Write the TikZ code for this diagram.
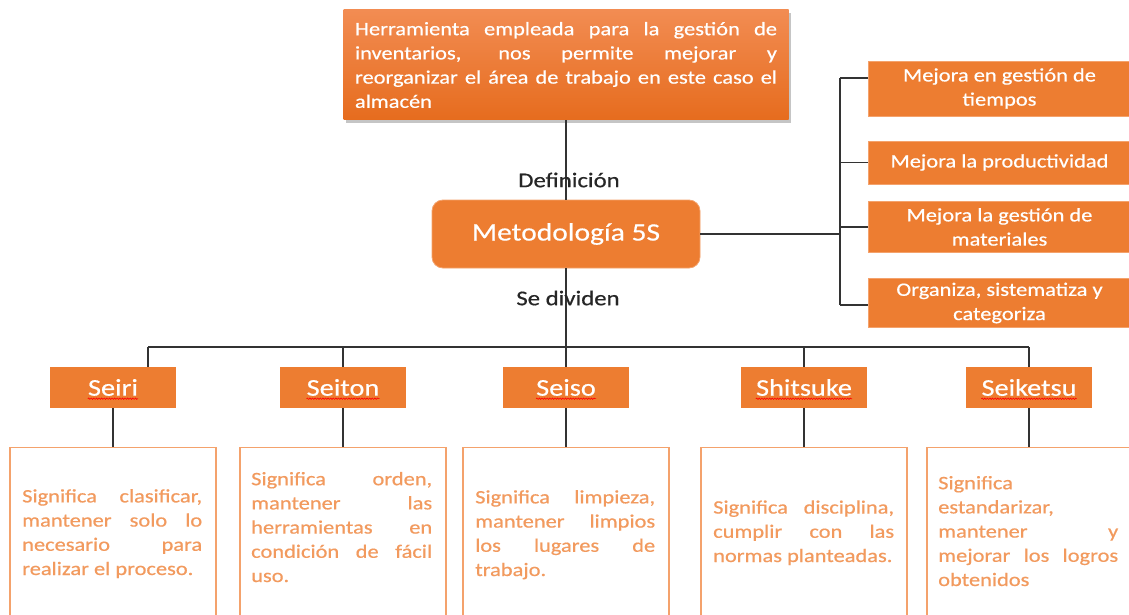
\documentclass[tikz,border=0pt]{standalone}
\usepackage{fontspec}
\setmainfont{Carlito}[FakeStretch=1.18,FakeBold=0.5]
\usetikzlibrary{shadows,decorations.pathmorphing}
\definecolor{org}{HTML}{ED7D31}
\definecolor{orgtop}{HTML}{F28C52}
\definecolor{orgbot}{HTML}{E66C1E}
\definecolor{orgline}{HTML}{F4A26C}
\definecolor{orgtext}{HTML}{F29A5E}
\definecolor{conn}{HTML}{333333}
\newcommand{\jl}[2]{\makebox[#1pt][s]{#2}}
\tikzset{
  conline/.style={draw=conn, line width=1.7pt},
  bodyfont/.style={font=\fontsize{19}{24.2}\selectfont},
  rbox/.style={fill=org, draw=orgline, line width=0.8pt, minimum width=263pt, text=white, bodyfont, align=center, inner sep=0pt},
  hbox/.style={fill=org, minimum width=126pt, minimum height=41pt, inner sep=0pt},
  htext/.style={text=white, font=\fontsize{24}{28}\selectfont, inner sep=0pt},
  dbox/.style={draw=orgline, fill=white, line width=1.2pt, minimum width=206pt, minimum height=200pt, anchor=north, inner sep=0pt},
  dtext/.style={text=orgtext, bodyfont, align=left, anchor=base west, inner sep=0pt},
  lbl/.style={font=\fontsize{21}{24}\selectfont, text=black!85, inner sep=0pt},
  wavy/.style={draw=red, line width=0.6pt, decorate, decoration={snake, amplitude=0.7pt, segment length=2.6pt}}
}
\begin{document}
\begin{tikzpicture}[x=1pt,y=-1pt]
\useasboundingbox (0,0) rectangle (1129,615);
\clip (0,0) rectangle (1129,615);
\fill[white] (0,0) rectangle (1129,615);

% top definition box
\node[minimum width=445pt, minimum height=110pt, top color=orgtop, bottom color=orgbot, draw=none,
  drop shadow={opacity=0.45, shadow xshift=2pt, shadow yshift=-3pt}, text=white, bodyfont, align=left, inner sep=0pt]
  (top) at (566,65) {\jl{422}{Herramienta empleada para la gestión de}\\
  \jl{422}{inventarios, nos permite mejorar y}\\
  \jl{422}{reorganizar el área de trabajo en este caso el}\\
  almacén};

% central box
\node[fill=org, draw=orgline, line width=0.8pt, rounded corners=11pt, minimum width=268pt, minimum height=68pt,
  text=white, font=\fontsize{25}{30}\selectfont, inner sep=0pt] (met) at (566,234) {Metodología 5S};

% right benefit boxes
\node[rbox, minimum height=55pt] (r1) at (999.5,88.5) {Mejora en gestión de\\tiempos};
\node[rbox, minimum height=43pt] (r2) at (999.5,162.5) {Mejora la productividad};
\node[rbox, minimum height=51pt] (r3) at (999.5,227) {Mejora la gestión de\\materiales};
\node[rbox, minimum height=49pt] (r4) at (999.5,303) {Organiza, sistematiza y\\categoriza};

% headers
\node[hbox] (h1) at (113,387.5) {};
\node[hbox] (h2) at (343,387.5) {};
\node[hbox] (h3) at (566,387.5) {};
\node[hbox] (h4) at (804,387.5) {};
\node[hbox] (h5) at (1029,387.5) {};
\node[htext] (t1) at (h1) {Seiri};
\node[htext] (t2) at (h2) {Seiton};
\node[htext] (t3) at (h3) {Seiso};
\node[htext] (t4) at (h4) {Shitsuke};
\node[htext] (t5) at (h5) {Seiketsu};
\foreach \t in {t1,t2,t3,t4,t5}{
  \draw[wavy] ([yshift=-3pt]\t.base west) -- ([yshift=-3pt]\t.base east);
}

% description boxes
\node[dbox] (d1) at (113,447) {};
\node[dbox] (d2) at (343,447) {};
\node[dbox] (d3) at (566,447) {};
\node[dbox] (d4) at (804,447) {};
\node[dbox] (d5) at (1030,447) {};

% description texts (anchored at the baseline of their last line)
\node[dtext] (x1) at (22,575) {\jl{180}{Significa clasificar,}\\\jl{180}{mantener solo lo}\\\jl{180}{necesario para}\\realizar el proceso.};
\node[dtext] (x2) at (251,582) {\jl{181}{Significa orden,}\\\jl{181}{mantener las}\\\jl{181}{herramientas en}\\\jl{181}{condición de fácil}\\uso.};
\node[dtext] (x3) at (475,576) {\jl{180}{Significa limpieza,}\\\jl{180}{mantener limpios}\\\jl{180}{los lugares de}\\trabajo.};
\node[dtext] (x4) at (713,562) {\jl{181}{Significa disciplina,}\\\jl{181}{cumplir con las}\\normas planteadas.};
\node[dtext] (x5) at (938,586) {Significa\\estandarizar,\\\jl{180}{mantener y}\\\jl{180}{mejorar los logros}\\obtenidos};

% connectors: centre column
\draw[conline] (top.south) -- (met.north);
\coordinate (busL) at (148,347);
\coordinate (busR) at (1029,347);
\draw[conline] (met.south) -- (met.south |- busL);
\draw[conline] (busL) -- (busR);
\draw[conline] (busL) -- (busL |- h1.north);
\draw[conline] (busR) -- (h5.north);
\draw[conline] (h2.north |- busL) -- (h2.north);
\draw[conline] (h3.north |- busL) -- (h3.north);
\draw[conline] (h4.north |- busL) -- (h4.north);
\foreach \i in {1,...,5}{
  \draw[conline] (h\i.south) -- (h\i.south |- d\i.north);
}

% connectors: right side
\coordinate (rj) at (840,234);
\coordinate (rt) at (840,78);
\coordinate (rb) at (840,305);
\draw[conline] (met.east) -- (rj);
\draw[conline] (rt) -- (rb);
\draw[conline] (rt) -- (rt -| r1.west);
\draw[conline] (r2.west -| rj) -- (r2.west);
\draw[conline] (r3.west -| rj) -- (r3.west);
\draw[conline] (rb) -- (rb -| r4.west);

% labels on the centre line
\node[lbl] (ldef) at (569,180) {Definición};
\node[lbl] (ldiv) at (568,298) {Se dividen};
\end{tikzpicture}
\end{document}
